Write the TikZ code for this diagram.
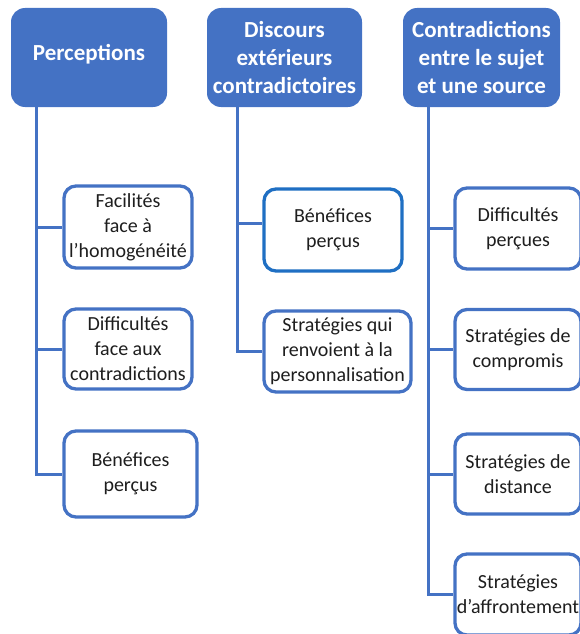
\documentclass[tikz,border=0pt]{standalone}
\usepackage{fontspec}
\setmainfont{Carlito}
\definecolor{hblue}{HTML}{4472C4}
\definecolor{bblue}{HTML}{1F6FC3}
\definecolor{txt}{HTML}{1E1E1E}
\begin{document}
\begin{tikzpicture}[x=1pt,y=-1pt,
  head/.style={fill=hblue, draw=none, rounded corners=14pt, text=white,
    font=\bfseries\fontsize{23}{28}\selectfont, align=center, inner sep=0pt,
    minimum height=99pt},
  leaf/.style={draw=hblue, line width=3.3pt, fill=white, rounded corners=12pt,
    text=txt, font=\fontsize{20}{25}\selectfont, align=center, inner sep=0pt},
  conn/.style={draw=hblue, line width=3pt, line join=miter}]
\useasboundingbox (0,0) rectangle (580,634);
\clip (0,0) rectangle (580,634);
% headers
\node[head, minimum width=156pt] (h1) at (89,57.5) {\raisebox{10pt}{Perceptions}};
\node[head, minimum width=155pt] (h2) at (284.5,57.5) {Discours\\extérieurs\\contradictoires};
\node[head, minimum width=157pt] (h3) at (481.5,57.5) {Contradictions\\entre le sujet\\et une source};
% column 1
\node[leaf, minimum width=128pt, minimum height=82pt] (a1) at (128,227) {Facilités\\face à\\l’homogénéité};
\node[leaf, minimum width=128pt, minimum height=80pt] (a2) at (128,349) {Difficultés\\face aux\\contradictions};
\node[leaf, minimum width=133pt, minimum height=86pt] (a3) at (130.5,474) {Bénéfices\\perçus};
% column 2
\node[leaf, draw=bblue, minimum width=138pt, minimum height=82pt] (b1) at (333,230) {Bénéfices\\perçus};
\node[leaf, minimum width=147pt, minimum height=81pt] (b2) at (337.5,351.5) {Stratégies qui\\renvoient à la\\personnalisation};
% column 3
\node[leaf, minimum width=126pt, minimum height=81pt] (c1) at (518,228.5) {Difficultés\\perçues};
\node[leaf, minimum width=126pt, minimum height=80pt] (c2) at (518,349.5) {Stratégies de\\compromis};
\node[leaf, minimum width=126pt, minimum height=80pt] (c3) at (518,474) {Stratégies de\\distance};
\node[leaf, minimum width=126pt, minimum height=81pt] (c4) at (518,594.5) {Stratégies\\d’affrontement};
% spines
\coordinate (s1) at (36,0);
\coordinate (s2) at (237,0);
\coordinate (s3) at (428,0);
\draw[conn] (h1.south -| s1) -- (s1 |- a3.west) -- (a3.west);
\draw[conn] (s1 |- a1.west) -- (a1.west);
\draw[conn] (s1 |- a2.west) -- (a2.west);
\draw[conn] (h2.south -| s2) -- (s2 |- b2.west) -- (b2.west);
\draw[conn] ([yshift=7pt]b1.west -| s2) -- ([yshift=7pt]b1.west);
\draw[conn] (h3.south -| s3) -- (s3 |- c4.west) -- (c4.west);
\draw[conn] (s3 |- c1.west) -- (c1.west);
\draw[conn] (s3 |- c2.west) -- (c2.west);
\draw[conn] (s3 |- c3.west) -- (c3.west);
\end{tikzpicture}
\end{document}
